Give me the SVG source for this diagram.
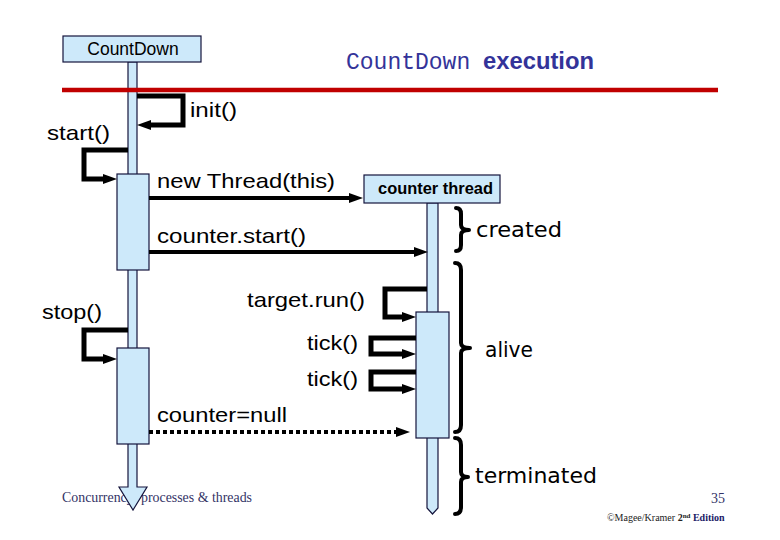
<svg xmlns="http://www.w3.org/2000/svg" width="780" height="540" viewBox="0 0 780 540">
<style>
.obj{fill:#cde9fa;stroke:#14143c;stroke-width:1.2}
.lbl{font-family:"Liberation Sans",Arial,sans-serif;font-size:21px;fill:#000}
.state{font-family:"DejaVu Sans","Liberation Sans",sans-serif;font-size:21px;fill:#000}
.msg{fill:none;stroke:#000;stroke-width:4}
.loop{fill:none;stroke:#000;stroke-width:5}
.brace{fill:none;stroke:#000;stroke-width:4;stroke-linejoin:round;stroke-linecap:round}
.foot{font-family:"Liberation Serif","Times New Roman",serif;font-size:14px;fill:#333366}
</style>
<defs>
<marker id="ah" viewBox="0 0 14 10" markerWidth="14" markerHeight="10" refX="2" refY="5" orient="auto" markerUnits="userSpaceOnUse">
<path d="M0,0 L14,5 L0,10 Z" fill="#000"/>
</marker>
</defs>
<rect width="780" height="540" fill="#fff"/>

<g id="footer">
<text class="foot" x="62" y="502" textLength="190" lengthAdjust="spacingAndGlyphs">Concurrency: processes &amp; threads</text>
<text class="foot" x="711" y="503" fill="#000">35</text>
<text x="607" y="521" font-family="Liberation Serif,serif" font-size="10" fill="#222">©Magee/Kramer <tspan font-weight="bold">2</tspan><tspan font-weight="bold" font-size="7" dy="-3">nd</tspan><tspan font-weight="bold" fill="#1a1a66" dy="3"> Edition</tspan></text>
</g>

<g id="title">
<text x="346" y="69" font-family="Liberation Mono,Courier New,monospace" font-size="23" fill="#333399">CountDown</text>
<text x="483" y="69" font-family="Liberation Sans,Arial,sans-serif" font-size="23" font-weight="bold" fill="#333399" textLength="111" lengthAdjust="spacingAndGlyphs">execution</text>
</g>

<g id="countdown">
<path class="obj" d="M128,62 V487 H119 L133,510 L147,487 H137 V62 Z"/>
<rect class="obj" x="63" y="36" width="138" height="26"/>
<text x="133" y="55" text-anchor="middle" font-family="Liberation Sans,Arial,sans-serif" font-size="17.5" fill="#000">CountDown</text>
<rect class="obj" x="117" y="174" width="32" height="96"/>
<rect class="obj" x="117" y="348" width="32" height="96"/>
</g>

<line x1="62" y1="90" x2="718" y2="90" stroke="#c00000" stroke-width="4.5"/>

<g id="counterthread">
<path class="obj" d="M427,203 V508 L432.5,514 L438,508 V203 Z"/>
<rect class="obj" x="364" y="175" width="136" height="28"/>
<text x="378" y="194" font-family="Liberation Sans,Arial,sans-serif" font-size="16" font-weight="bold" fill="#000" textLength="115" lengthAdjust="spacingAndGlyphs">counter thread</text>
<rect class="obj" x="416" y="312" width="33" height="126"/>
</g>

<g id="connectors">
<path class="loop" d="M137,96 H183 V125 H149" marker-end="url(#ah)"/>
<path class="loop" d="M128,150 H84 V179 H105" marker-end="url(#ah)"/>
<path class="msg" d="M149,198 H351" marker-end="url(#ah)"/>
<path class="msg" d="M149,252 H416" marker-end="url(#ah)"/>
<path class="loop" d="M427,289 H385 V317 H404" marker-end="url(#ah)"/>
<path class="loop" d="M416,338 H371 V354 H404" marker-end="url(#ah)"/>
<path class="loop" d="M416,372 H371 V389 H404" marker-end="url(#ah)"/>
<path class="loop" d="M128,330 H84 V359 H105" marker-end="url(#ah)"/>
<path fill="none" stroke="#000" stroke-width="4" stroke-dasharray="4,3" d="M149,432 H398" marker-end="url(#ah)"/>
</g>

<g id="labels">
<text class="lbl" x="190" y="117" textLength="47" lengthAdjust="spacingAndGlyphs">init()</text>
<text class="lbl" x="47" y="140" textLength="63" lengthAdjust="spacingAndGlyphs">start()</text>
<text class="lbl" x="157" y="188" textLength="178" lengthAdjust="spacingAndGlyphs">new Thread(this)</text>
<text class="lbl" x="157" y="243" textLength="149" lengthAdjust="spacingAndGlyphs">counter.start()</text>
<text class="lbl" x="247" y="307" textLength="118" lengthAdjust="spacingAndGlyphs">target.run()</text>
<text class="lbl" x="42" y="319" textLength="60" lengthAdjust="spacingAndGlyphs">stop()</text>
<text class="lbl" x="307" y="350" textLength="51" lengthAdjust="spacingAndGlyphs">tick()</text>
<text class="lbl" x="307" y="386" textLength="51" lengthAdjust="spacingAndGlyphs">tick()</text>
<text class="lbl" x="157" y="422" textLength="130" lengthAdjust="spacingAndGlyphs">counter=null</text>
</g>

<g id="states">
<path class="brace" d="M456,208 Q461,208 461,214 V225 Q461,230 469,230 Q461,230 461,235 V245 Q461,251 456,251"/>
<text class="state" x="476" y="237" textLength="86" lengthAdjust="spacingAndGlyphs">created</text>
<path class="brace" d="M455,263 Q461,263 461,270 V343 Q461,348 470,348 Q461,348 461,353 V425 Q461,432 455,432"/>
<text class="state" x="485" y="357" textLength="48" lengthAdjust="spacingAndGlyphs">alive</text>
<path class="brace" d="M455,438 Q461,438 461,445 V472 Q461,477 468,477 Q461,477 461,482 V507 Q461,514 455,514"/>
<text class="state" x="475" y="483" textLength="122" lengthAdjust="spacingAndGlyphs">terminated</text>
</g>
</svg>
